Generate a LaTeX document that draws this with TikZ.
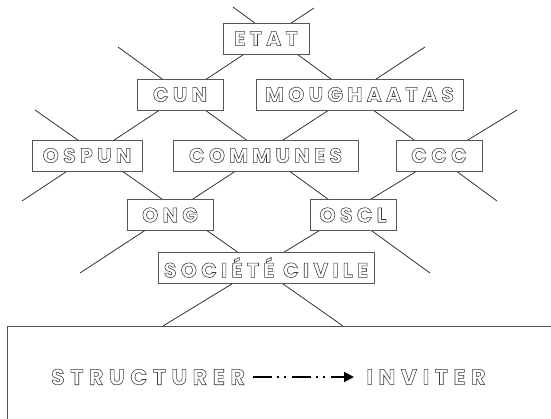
\documentclass[tikz,border=0pt]{standalone}
\usepackage{fontspec}
\setmainfont{Poppins}
\newfontfamily\boxfont[LetterSpace=21]{Poppins}
\newfontfamily\bottomfont[LetterSpace=26]{Poppins}
\usetikzlibrary{arrows.meta}
\definecolor{boxgray}{HTML}{555555}
\definecolor{linegray}{HTML}{333333}
\definecolor{txtgray}{HTML}{3A3A3A}
\newcommand{\outl}[1]{\special{pdf:literal 1 Tr 0.55 w}#1\special{pdf:literal 0 Tr}}
\tikzset{
  lbl/.style={draw=boxgray, fill=white, line width=0.9pt, inner sep=0pt,
    minimum height=31pt, font=\boxfont\bfseries\fontsize{20.5}{24}\selectfont, text=txtgray},
  lat/.style={draw=linegray, line width=0.8pt},
  bigtxt/.style={inner sep=0pt, font=\bottomfont\bfseries\fontsize{22}{24}\selectfont, text=txtgray},
  flow/.style={draw=black, line width=2pt,
    dash pattern=on 19pt off 5pt on 2pt off 5pt on 2pt off 6pt,
    -{Triangle[length=10pt,width=10pt]}}
}
\begin{document}
\begin{tikzpicture}[x=1pt,y=-1pt]
\useasboundingbox (0,0) rectangle (551,419);
\clip (0,0) rectangle (551,419);
% lattice end points
\coordinate (l1a) at (233,7);   \coordinate (l1b) at (497,201);
\coordinate (l2a) at (118,47);  \coordinate (l2b) at (430,273);
\coordinate (l3a) at (35,110);  \coordinate (l3b) at (343,326);
\coordinate (r1a) at (314,8);   \coordinate (r1b) at (22,201);
\coordinate (r2a) at (425,47);  \coordinate (r2b) at (80,273);
\coordinate (r3a) at (517,110); \coordinate (r3b) at (163,326);
\draw[lat] (l1a) -- (l1b);
\draw[lat] (l2a) -- (l2b);
\draw[lat] (l3a) -- (l3b);
\draw[lat] (r1a) -- (r1b);
\draw[lat] (r2a) -- (r2b);
\draw[lat] (r3a) -- (r3b);
% boxes
\node[lbl, minimum width=86pt]  (etat)   at (266,38.5)  {\outl{ETAT}};
\node[lbl, minimum width=86pt]  (cun)    at (180,94.5)  {\outl{CUN}};
\node[lbl, minimum width=207pt] (mough)  at (359.5,94.5) {\outl{MOUGHAATAS}};
\node[lbl, minimum width=110pt] (ospun)  at (87,155.5)  {\outl{OSPUN}};
\node[lbl, minimum width=185pt] (comm)   at (265.5,155.5) {\outl{COMMUNES}};
\node[lbl, minimum width=86pt]  (ccc)    at (439,155.5) {\outl{CCC}};
\node[lbl, minimum width=86pt]  (ong)    at (170,215)   {\outl{ONG}};
\node[lbl, minimum width=86pt]  (oscl)   at (353,215)   {\outl{OSCL}};
\node[lbl, minimum width=216pt] (soc)    at (266,267.5) {\outl{SOCIÉTÉ CIVILE}};
% bottom panel
\draw[draw=boxgray, fill=white, line width=0.9pt] (7,326) rectangle (570,440);
\node[bigtxt] (struct) at (148,377) {\outl{STRUCTURER}};
\node[bigtxt] (invit)  at (426,377) {\outl{INVITER}};
\coordinate (fa) at (253,377);
\coordinate (fb) at (354,377);
\draw[flow] (fa) -- (fb);
\end{tikzpicture}
\end{document}
